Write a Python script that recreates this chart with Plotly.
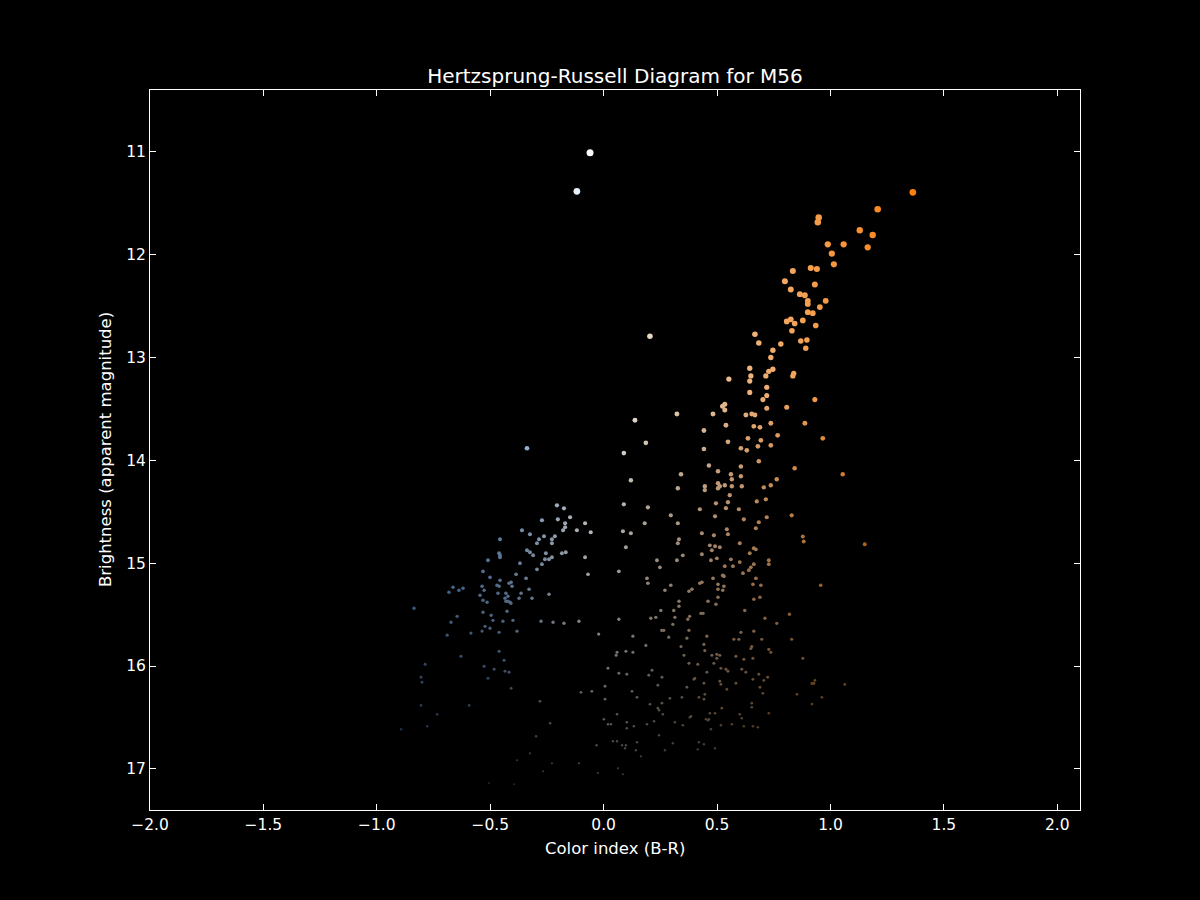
import numpy as np
import plotly.graph_objects as go

# ---- data: color index (B-R) and apparent magnitude of each star ----
color_index = [
    -0.060, -0.118, 0.204, 0.552, 0.323, 0.138, 0.482, 0.524, 0.534, 0.534, 0.442, 0.539, 0.186, 0.548, 0.442, 0.089, 0.464,
    1.363, 1.208, 0.948, 0.944, 1.129, 1.186, 0.988, 1.058, 1.164, 1.006, 1.015, 0.834, 0.913, 0.940, 0.799, 0.931, 0.825,
    0.865, 0.887, 0.900, 0.900, 0.979, 0.953, 0.900, 0.922, 0.825, 0.807, 0.842, 0.878, 0.935, 0.830, 0.667, 0.684, 0.781,
    0.869, 0.896, 0.891, 0.746, 0.737, 0.644, 0.728, 0.746, 0.649, 0.715, 0.838, 0.834, 0.644, 0.719, 0.644, 0.719, 0.702, 0.931,
    0.719, 0.807, 0.627, 0.653, 0.667, 0.737, 0.887, 0.662, 0.689, 0.767, 0.966, 0.636, 0.693, 0.680, 0.737, 0.605, 0.631,
    0.684, 0.605, 0.842, 0.504, 1.054, 0.341, 0.561, 0.605, 0.565, 0.763, 0.504, 0.512, 0.504, 0.446, 0.446, 0.534, 0.565,
    0.609, 0.737, 0.706, 0.556, 0.715, 0.675, 0.495, 0.548, 0.424, 0.539, 0.596, 0.829, 0.491, 0.618, 0.719, 0.684, 0.671,
    0.543, 0.433, 0.486, 0.548, 0.878, 0.882, 1.151, 0.600, 0.468, 0.491, 0.512, 0.477, 0.662, 0.671, 0.644, 0.349, 0.433,
    0.499, 0.561,
    0.957, 0.819, 0.829, 0.878, 0.931, 0.918, 0.927, 1.063, 0.852, 0.962, 0.918,
    -0.338, -0.206, -0.175, -0.272, -0.202, -0.148, -0.170, -0.170, -0.179, -0.082, -0.118, -0.057, -0.360, -0.325, -0.263,
    -0.215, -0.285, -0.228, -0.228, -0.294, -0.457, -0.338, -0.325, -0.311, -0.255, -0.184, -0.167, -0.461, -0.457, -0.457,
    -0.259, -0.241, -0.228, -0.082, -0.510, -0.369, -0.272, -0.294, -0.532, -0.069, -0.386, -0.501, -0.342, -0.457, -0.417,
    -0.408, -0.404, -0.470, -0.461, -0.536, -0.664, -0.620, -0.638, -0.682, -0.527, -0.329, -0.466, -0.431, -0.364, -0.241,
    -0.545, -0.422, -0.435, -0.373, -0.316, -0.532, -0.514, -0.431, -0.422, -0.409, -0.413, -0.836, -0.426, -0.646, -0.532,
    -0.496, -0.673, -0.488, -0.444, -0.400, -0.276, -0.223, -0.175, -0.109, -0.523, -0.501, 0.067, 0.067,
    -0.690, -0.585, -0.536, -0.461, -0.382, -0.022, -0.629, -0.461, -0.439, -0.787, -0.527, -0.483, -0.435, -0.417, -0.805,
    -0.801, -0.510, -0.408, -0.100, -0.052, -0.281, -0.805, -0.593, -0.734, -0.236, -0.778, -0.893, -0.298, -0.031, -0.325,
    -0.382, -0.228, -0.109, -0.267, -0.025, -0.505, -0.395,
    0.120, 0.327, 0.089, 0.195, 0.296, 0.327, 0.181, 0.085, 0.120, 0.098, 0.332, 0.327, 0.473, 0.235, 0.323, 0.248, 0.191,
    0.195, 0.296, 0.270, 0.376, 0.389, 0.424, 0.433, 0.482, 0.504, 0.504, 0.504, 0.460, 0.495, 0.332, 0.332, 0.252, 0.309,
    0.429, 0.438, 0.314, 0.379, 0.208, 0.230, 0.371, 0.305, 0.256, 0.265, 0.376, 0.129, 0.287, 0.367, 0.455, 0.442, 0.186,
    0.341,
    0.600, 0.728, 0.728, 0.662, 0.534, 0.570, 0.649, 0.640, 0.614, 0.525, 0.530, 0.671, 0.530, 0.658, 0.693, 0.525, 0.662,
    0.689, 0.622, 0.711, 0.763, 0.605, 0.662, 0.574, 0.596, 0.697, 0.446, 0.653, 0.649, 0.728, 0.737, 0.477, 0.499, 0.512,
    0.499, 0.583, 0.618, 0.658, 0.486, 0.517, 0.539, 0.548, 0.609, 0.627, 0.455, 0.684, 0.723, 0.658, 0.706, 0.442, 0.512,
    0.517, 0.583, 0.689, 0.543, 0.702, 0.446,
    0.059, 0.055, 0.098, 0.129, 0.354, 0.415, 0.376, 0.019, 0.067, 0.102, 0.199, 0.213, 0.257, 0.239, 0.367, 0.398, 0.402,
    0.006, 0.006, 0.125, 0.147, 0.292, 0.345, 0.420, 0.442, 0.204, 0.257, 0.239, 0.244, 0.261, 0.059, 0.001, 0.019, 0.032,
    0.102, 0.102, 0.133, 0.191, 0.222, 0.314, 0.349, 0.385, 0.380, 0.451, 0.460, 0.464, 0.468, 0.491, 0.473, 0.521, 0.517,
    0.565, 0.600, 0.609, 0.618, 0.653, 0.653, 0.658, 0.680, 0.728, 0.244, 0.305, 0.270, 0.420, 0.442, 0.415, 0.491, 0.041,
    0.059, 0.081, 0.098, 0.094, 0.147, 0.142, 0.164, 0.063, 0.085,
]

magnitude = [
    11.01, 11.385, 12.795, 13.21, 13.55, 13.61, 13.55, 13.475, 13.456, 13.51, 13.71, 13.66, 13.83, 13.82, 13.89, 13.93, 14.05,
    11.395, 11.56, 11.64, 11.685, 11.764, 11.81, 11.90, 11.90, 11.93, 11.99, 12.095, 12.16, 12.13, 12.14, 12.26, 12.29, 12.34,
    12.385, 12.395, 12.45, 12.48, 12.45, 12.51, 12.56, 12.57, 12.63, 12.65, 12.67, 12.64, 12.69, 12.74, 12.775, 12.86, 12.87,
    12.84, 12.83, 12.91, 12.93, 13.00, 13.105, 13.135, 13.115, 13.18, 13.18, 13.155, 13.18, 13.23, 13.29, 13.34, 13.37, 13.41, 13.41,
    13.495, 13.485, 13.56, 13.55, 13.56, 13.64, 13.64, 13.67, 13.68, 13.757, 13.786, 13.786, 13.806, 13.864, 13.854, 13.883, 13.903,
    14.01, 14.06, 14.077, 14.107, 14.136, 14.136, 14.136, 14.156, 14.185, 14.185, 14.224, 14.253, 14.272, 14.253, 14.29, 14.243, 14.253,
    14.253, 14.243, 14.263, 14.34, 14.38, 14.40, 14.418, 14.408, 14.476, 14.466, 14.476, 14.535, 14.545, 14.574, 14.554, 14.603, 14.66,
    14.67, 14.71, 14.73, 14.72, 14.74, 14.79, 14.817, 14.807, 14.827, 14.836, 14.846, 14.875, 14.856, 14.866, 14.904, 14.924, 14.914,
    14.953, 14.963,
    15.215, 15.497, 15.74, 15.925, 16.14, 16.17, 16.17, 16.18, 16.275, 16.305, 16.37,
    13.883, 14.438, 14.467, 14.583, 14.574, 14.554, 14.612, 14.651, 14.681, 14.612, 14.681, 14.70, 14.681, 14.72, 14.739,
    14.739, 14.768, 14.768, 14.806, 14.806, 14.768, 14.875, 14.894, 14.923, 14.904, 14.904, 14.894, 14.904, 14.923, 14.943,
    14.962, 14.962, 14.943, 14.943, 14.972, 15.00, 15.01, 15.06, 15.08, 15.108, 15.108, 15.137, 15.147, 15.167, 15.196,
    15.186, 15.225, 15.215, 15.225, 15.225, 15.235, 15.244, 15.264, 15.283, 15.264, 15.254, 15.293, 15.293, 15.293, 15.303,
    15.312, 15.322, 15.342, 15.342, 15.342, 15.361, 15.381, 15.371, 15.371, 15.39, 15.38, 15.439, 15.468, 15.517, 15.478,
    15.507, 15.575, 15.556, 15.565, 15.556, 15.565, 15.575, 15.584, 15.565, 15.614, 15.633, 15.08, 15.546,
    15.70, 15.68, 15.66, 15.672, 15.662, 15.69, 15.906, 15.857, 15.945, 15.984, 16.003, 16.032, 16.052, 16.061, 16.11,
    16.158, 16.12, 16.217, 16.256, 16.246, 16.343, 16.383, 16.383, 16.47, 16.556, 16.585, 16.615, 16.683, 16.77, 16.85,
    16.917, 16.946, 16.946, 17.023, 17.04, 17.14, 17.15,
    14.194, 14.272, 14.428, 14.457, 14.535, 14.612, 14.612, 14.69, 14.71, 14.846, 14.768, 14.806, 14.972, 14.972, 14.972, 15.04, 15.147,
    15.196, 15.215, 15.264, 15.274, 15.254, 15.196, 15.186, 15.147, 15.206, 15.254, 15.332, 15.371, 15.40, 15.371, 15.42, 15.46, 15.46,
    15.488, 15.488, 15.527, 15.517, 15.536, 15.527, 15.546, 15.595, 15.653, 15.653, 15.653, 15.71, 15.72, 15.73, 15.71, 15.79, 15.80,
    15.81,
    14.99, 14.972, 15.01, 15.01, 15.03, 15.03, 15.04, 15.069, 15.098, 15.118, 15.127, 15.147, 15.225, 15.206, 15.215, 15.264, 15.351,
    15.332, 15.46, 15.536, 15.585, 15.672, 15.662, 15.74, 15.74, 15.74, 15.85, 15.81, 15.83, 15.838, 15.867, 15.896, 15.886, 15.896,
    15.925, 15.906, 15.935, 15.925, 15.974, 16.023, 16.032, 16.052, 16.032, 16.061, 16.061, 16.081, 16.11, 16.13, 16.14, 16.168, 16.148,
    16.178, 16.168, 16.207, 16.227, 16.266, 16.275,
    15.867, 15.896, 15.857, 15.867, 15.896, 15.984, 15.974, 16.022, 16.071, 16.081, 16.09, 16.042, 16.11, 16.187, 16.207, 16.13, 16.12,
    16.197, 16.323, 16.246, 16.305, 16.314, 16.305, 16.305, 16.323, 16.372, 16.362, 16.41, 16.43, 16.469, 16.469, 16.517, 16.566, 16.566,
    16.546, 16.605, 16.586, 16.566, 16.537, 16.547, 16.576, 16.489, 16.499, 16.518, 16.528, 16.518, 16.459, 16.459, 16.615, 16.41, 16.576,
    16.566, 16.469, 16.508, 16.586, 16.362, 16.401, 16.586, 16.596, 16.459, 16.673, 16.751, 16.819, 16.741, 16.761, 16.81, 16.80, 16.732,
    16.732, 16.771, 16.771, 16.80, 16.742, 16.819, 16.878, 16.994, 17.052,
]

x_ticks = [-2.0, -1.5, -1.0, -0.5, 0.0, 0.5, 1.0, 1.5, 2.0]
x_tick_text = ["\u22122.0", "\u22121.5", "\u22121.0", "\u22120.5", "0.0", "0.5", "1.0", "1.5", "2.0"]
y_ticks = [11, 12, 13, 14, 15, 16, 17]

# ---- styling: star colour from B-R, brightness & size from magnitude ----
ci = np.array(color_index, dtype=float)
mag = np.array(magnitude, dtype=float)

cmap_pos = [-0.9, -0.45, -0.05, 0.2, 0.5, 0.9, 1.4]
cmap_r = [100, 135, 250, 230, 235, 245, 255]
cmap_g = [150, 175, 252, 215, 190, 160, 125]
cmap_b = [215, 225, 255, 195, 150, 80, 10]
r = np.interp(ci, cmap_pos, cmap_r)
g = np.interp(ci, cmap_pos, cmap_g)
b = np.interp(ci, cmap_pos, cmap_b)
alpha = np.clip(1.0 - (mag - 13.3) / 5.0, 0.22, 1.0)
colors = [f"rgb({int(rr*a)},{int(gg*a)},{int(bb*a)})" for rr, gg, bb, a in zip(r, g, b, alpha)]
sizes = np.clip(1.8 + (17.5 - mag) * 0.8, 1.8, 8)

fig = go.Figure()
fig.add_trace(go.Scatter(
    x=color_index, y=magnitude, mode="markers",
    marker=dict(color=colors, size=sizes, opacity=1, line=dict(width=0)),
    hoverinfo="x+y", showlegend=False,
))

font_family = "DejaVu Sans"
axis_common = dict(
    showgrid=False, zeroline=False, showline=True, linecolor="white", linewidth=1,
    mirror="ticks", ticks="inside", ticklen=6, tickwidth=1, tickcolor="white",
    tickfont=dict(family=font_family, size=15.5, color="white"),
)

fig.update_layout(
    width=1200, height=900,
    paper_bgcolor="black", plot_bgcolor="black",
    margin=dict(l=150, r=120, t=90, b=90),
    title=dict(text="Hertzsprung-Russell Diagram for M56", x=0.5, xref="paper",
               y=1 - 76 / 900, yanchor="middle",
               font=dict(family=font_family, size=20, color="white")),
    xaxis=dict(range=[-2.0, 2.1], tickvals=x_ticks, ticktext=x_tick_text, **axis_common),
    yaxis=dict(range=[17.4, 10.4], tickvals=y_ticks, ticktext=[str(v) for v in y_ticks], **axis_common),
    annotations=[
        dict(text="Color index (B-R)", xref="paper", yref="paper", x=0.5, y=(810 - 848) / 720,
             xanchor="center", yanchor="middle", showarrow=False,
             font=dict(family=font_family, size=16.5, color="white")),
        dict(text="Brightness (apparent magnitude)", xref="paper", yref="paper", x=(105 - 150) / 930, y=0.5,
             xanchor="center", yanchor="middle", textangle=-90, showarrow=False,
             font=dict(family=font_family, size=16.5, color="white")),
    ],
)

fig.write_html(
    "out.html",
    config={"displayModeBar": False},
    post_script="document.body.style.margin='0';document.body.style.background='black';",
)
